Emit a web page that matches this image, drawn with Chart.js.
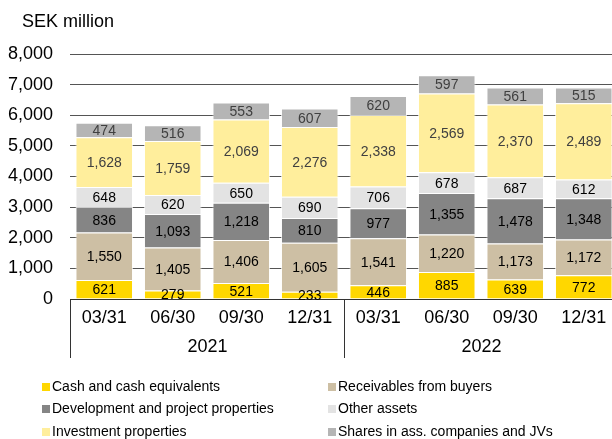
<!DOCTYPE html>
<html>
<head>
<meta charset="utf-8">
<script src="https://cdn.jsdelivr.net/npm/chart.js@4"></script>
<style>
  html, body { margin: 0; padding: 0; background: #fff; overflow: hidden; }
  #wrap { position: relative; width: 620px; height: 439px; }
  #title { position: absolute; left: 22px; top: 11px; font: 18px "Liberation Sans", Arial, sans-serif; color: #000; }
  #legend { position: absolute; left: 0; top: 0; width: 620px; height: 439px; font: 14px "Liberation Sans", Arial, sans-serif; color: #000; pointer-events: none; }
  .item { position: absolute; white-space: nowrap; line-height: 16px; }
  .item span { display: inline-block; width: 8px; height: 8px; margin-right: 2px; vertical-align: 0px; }
</style>
</head>
<body>
<div id="wrap">
  <canvas id="chart" width="620" height="439"></canvas>
  <div id="title">SEK million</div>
  <div id="legend"></div>
</div>
<script>
const quarters = ['03/31', '06/30', '09/30', '12/31', '03/31', '06/30', '09/30', '12/31'];
const years = ['2021', '2022'];
const yTicks = [0, 1000, 2000, 3000, 4000, 5000, 6000, 7000, 8000];

const cash = [621, 279, 521, 233, 446, 885, 639, 772];
const receivables = [1550, 1405, 1406, 1605, 1541, 1220, 1173, 1172];
const development = [836, 1093, 1218, 810, 977, 1355, 1478, 1348];
const otherAssets = [648, 620, 650, 690, 706, 678, 687, 612];
const investment = [1628, 1759, 2069, 2276, 2338, 2569, 2370, 2489];
const shares = [474, 516, 553, 607, 620, 597, 561, 515];

const series = [
  { label: 'Cash and cash equivalents', data: cash, color: '#ffd700', text: '#000' },
  { label: 'Receivables from buyers', data: receivables, color: '#cdbfa4', text: '#000' },
  { label: 'Development and project properties', data: development, color: '#858585', text: '#000' },
  { label: 'Other assets', data: otherAssets, color: '#e3e3e3', text: '#000' },
  { label: 'Investment properties', data: investment, color: '#ffee9c', text: '#404040' },
  { label: 'Shares in ass. companies and JVs', data: shares, color: '#b5b5b5', text: '#404040' }
];

const fontFamily = '"Liberation Sans", Arial, sans-serif';

// labels inside each segment + year row below the axis
const extras = {
  id: 'extras',
  afterDatasetsDraw(chart) {
    const ctx = chart.ctx;
    ctx.save();
    ctx.font = '14px ' + fontFamily;
    ctx.textAlign = 'center';
    ctx.textBaseline = 'middle';
    chart.data.datasets.forEach((ds, i) => {
      const meta = chart.getDatasetMeta(i);
      meta.data.forEach((el, j) => {
        ctx.fillStyle = series[i].text;
        ctx.fillText(ds.data[j].toLocaleString('en-US'), el.x, (el.y + el.base) / 2 + 1);
      });
    });
    ctx.restore();
  },
  afterDraw(chart) {
    const ctx = chart.ctx;
    const x = chart.scales.x;
    const bottom = chart.chartArea.bottom;
    const half = (x.getPixelForValue(1) - x.getPixelForValue(0)) / 2;
    ctx.save();
    ctx.strokeStyle = '#333';
    ctx.lineWidth = 1;
    const seps = [0, 4, 8].map(k => Math.round(x.getPixelForValue(k) - half) + 0.5);
    seps.forEach(px => {
      ctx.beginPath();
      ctx.moveTo(px, bottom);
      ctx.lineTo(px, bottom + 59);
      ctx.stroke();
    });
    ctx.fillStyle = '#000';
    ctx.font = '18px ' + fontFamily;
    ctx.textAlign = 'center';
    ctx.textBaseline = 'middle';
    years.forEach((yr, k) => {
      ctx.fillText(yr, (seps[k] + seps[k + 1]) / 2, bottom + 48);
    });
    ctx.restore();
  }
};

new Chart(document.getElementById('chart'), {
  type: 'bar',
  data: {
    labels: quarters,
    datasets: series.map(s => ({
      label: s.label,
      data: s.data,
      backgroundColor: s.color,
      borderColor: 'rgba(255,255,255,0.7)',
      borderWidth: 1,
      categoryPercentage: 1,
      barPercentage: 0.84
    }))
  },
  options: {
    responsive: false,
    animation: false,
    layout: { padding: { top: 54, right: 2, bottom: 80, left: 0 } },
    plugins: { legend: { display: false }, tooltip: { enabled: false } },
    scales: {
      x: {
        stacked: true,
        grid: { display: false, drawTicks: false },
        border: { display: true, color: '#333' },
        ticks: { color: '#000', font: { size: 18, family: fontFamily }, padding: 8, maxRotation: 0 },
        afterFit(s) { s.height = 60; }
      },
      y: {
        stacked: true,
        min: 0,
        max: 8000,
        afterBuildTicks(s) { s.ticks = yTicks.map(v => ({ value: v })); },
        grid: { color: '#555', drawTicks: false },
        border: { display: false },
        ticks: {
          color: '#000',
          font: { size: 18, family: fontFamily },
          padding: 17,
          callback: v => v.toLocaleString('en-US')
        },
        afterFit(s) { s.width = 70; }
      }
    }
  },
  plugins: [extras]
});

// two-column legend
const legend = document.getElementById('legend');
const rows = [378, 400, 423];
series.forEach((s, i) => {
  const d = document.createElement('div');
  d.className = 'item';
  d.style.left = (i % 2 === 0 ? 42 : 328) + 'px';
  d.style.top = rows[Math.floor(i / 2)] + 'px';
  d.innerHTML = '<span style="background:' + s.color + '"></span>' + s.label;
  legend.appendChild(d);
});
</script>
</body>
</html>
